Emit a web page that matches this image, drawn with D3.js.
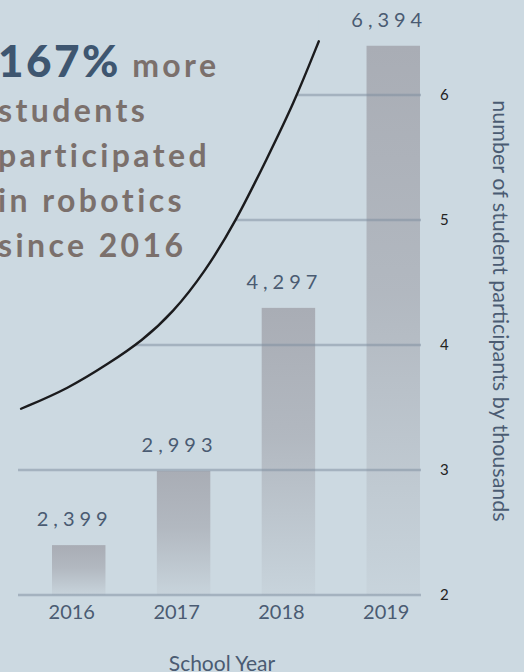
<!DOCTYPE html>
<html>
<head>
<meta charset="utf-8">
<script src="https://cdn.jsdelivr.net/npm/d3@7"></script>
<style>
  html, body { margin: 0; padding: 0; background: #ccd9e1; }
  svg { display: block; font-family: Lato, "Open Sans", sans-serif; }
</style>
</head>
<body>
<svg id="chart" width="524" height="672"></svg>
<script>
// ---- data ----
const categories = ["2016", "2017", "2018", "2019"];
const values = [2.399, 2.993, 4.297, 6.394];           // thousands of students
const yTicks = [2, 3, 4, 5, 6];
// decorative growth curve (x in years, y in thousands)
const trendYears  = [2015.45, 2015.9, 2016.3, 2016.6, 2016.9, 2017.2, 2017.5, 2017.8, 2018.05, 2018.29];
const trendValues = [3.49, 3.65, 3.86, 4.03, 4.26, 4.58, 4.99, 5.5, 5.93, 6.43];
const headlineNumber = "167%";
const headlineLines = ["more", "students", "participated", "in robotics", "since 2016"];
const xTitle = "School Year";
const yTitle = "number of student participants by thousands";

// ---- layout ----
const W = 524, H = 672;
const bg = "#ccd9e1";
const svg = d3.select("#chart");
svg.append("rect").attr("width", W).attr("height", H).attr("fill", bg);

const x = d3.scaleBand().domain(categories).range([52, 420]).paddingInner(0.49).paddingOuter(0);
const y = d3.scaleLinear().domain([2, 6.5]).range([595, 32.5]);
const xYear = d3.scaleLinear()
  .domain([+categories[0], +categories[categories.length - 1]])
  .range([x(categories[0]) + x.bandwidth() / 2, x(categories[categories.length - 1]) + x.bandwidth() / 2]);

const labelShift = -4;

// gradient
const defs = svg.append("defs");
const grad = defs.append("linearGradient").attr("id", "barGrad")
  .attr("x1", 0).attr("y1", 0).attr("x2", 0).attr("y2", 1);
grad.append("stop").attr("offset", "0%").attr("stop-color", "#a9adb5").attr("stop-opacity", 1);
grad.append("stop").attr("offset", "45%").attr("stop-color", "#a9adb5").attr("stop-opacity", 0.75);
grad.append("stop").attr("offset", "100%").attr("stop-color", "#a9adb5").attr("stop-opacity", 0.12);

// bars
const data = categories.map((c, i) => ({ c, v: values[i] }));
svg.append("g").selectAll("rect").data(data).join("rect")
  .attr("x", d => x(d.c))
  .attr("width", x.bandwidth())
  .attr("y", d => y(d.v))
  .attr("height", d => y(2) - y(d.v))
  .attr("fill", "url(#barGrad)");

// gridlines
svg.append("g").selectAll("line").data(yTicks).join("line")
  .attr("x1", 18).attr("x2", 421)
  .attr("y1", d => y(d)).attr("y2", d => y(d))
  .attr("stroke", "rgb(124,140,158)")
  .attr("stroke-opacity", 0.5)
  .attr("stroke-width", 2.5);

// curve + background mask above it
const trend = trendYears.map((t, i) => [xYear(t), y(trendValues[i])]);
const lineGen = d3.line().curve(d3.curveBasis);
const curvePath = lineGen(trend);
const first = trend[0], last = trend[trend.length - 1];
svg.append("path")
  .attr("d", curvePath + `L${last[0]},0L0,0L0,${first[1]}Z`)
  .attr("fill", bg);
svg.append("path")
  .attr("d", curvePath)
  .attr("fill", "none")
  .attr("stroke", "#1b1b1d")
  .attr("stroke-width", 2.4)
  .attr("stroke-linecap", "round");

// value labels
svg.append("g").selectAll("text").data(data).join("text")
  .attr("x", d => x(d.c) + x.bandwidth() / 2 + labelShift)
  .attr("y", d => y(d.v) - 19)
  .attr("text-anchor", "middle")
  .attr("font-size", 20)
  .attr("letter-spacing", 5)
  .attr("fill", "#4a5b72")
  .text(d => d3.format(",")(Math.round(d.v * 1000)));

// x axis (labels only)
const xAxis = svg.append("g").attr("transform", `translate(0,${y(2)})`)
  .call(d3.axisBottom(x).tickSize(0).tickPadding(10));
xAxis.select(".domain").remove();
xAxis.selectAll("text")
  .attr("font-family", "Lato, sans-serif")
  .attr("font-size", 20)
  .attr("fill", "#4a5b72")
  .attr("dx", -7);

// y axis (labels only, right side)
const yAxis = svg.append("g").attr("transform", `translate(422,0)`)
  .call(d3.axisRight(y).tickValues(yTicks).tickSize(0).tickPadding(18).tickFormat(d3.format("d")));
yAxis.select(".domain").remove();
yAxis.selectAll("text")
  .attr("font-family", "Lato, sans-serif")
  .attr("font-size", 15)
  .attr("fill", "#222");

// axis titles
svg.append("text")
  .attr("x", 222).attr("y", 671)
  .attr("text-anchor", "middle")
  .attr("font-size", 21)
  .attr("fill", "#4a5b72")
  .text(xTitle);
svg.append("text")
  .attr("transform", "translate(493,311) rotate(90)")
  .attr("text-anchor", "middle")
  .attr("font-size", 21.5)
  .attr("fill", "#4a5b72")
  .text(yTitle);

// headline
const head = svg.append("text")
  .attr("x", -2)
  .attr("font-weight", 700)
  .attr("fill", "#7b706c")
  .attr("letter-spacing", 3.4);
const l0 = head.append("tspan").attr("x", -2).attr("y", 77);
l0.append("tspan").attr("font-size", 44).attr("font-weight", 900).attr("fill", "#3e5670").attr("letter-spacing", 2.5).text(headlineNumber);
l0.append("tspan").attr("font-size", 32).text(" " + headlineLines[0]);
headlineLines.slice(1).forEach((t, i) => {
  head.append("tspan").attr("x", -2).attr("y", 122 + i * 45).attr("font-size", 32).text(t);
});
</script>
</body>
</html>
